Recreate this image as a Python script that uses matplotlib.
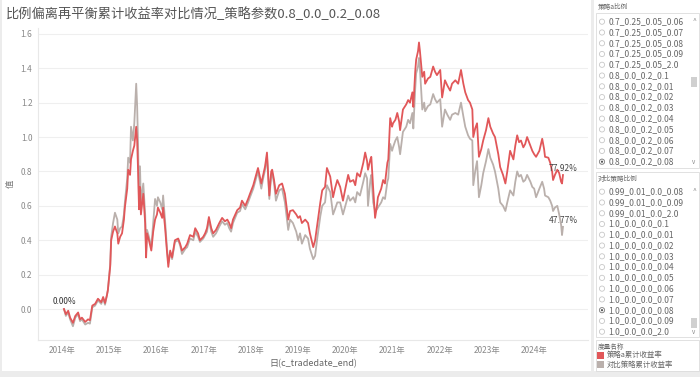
import matplotlib
matplotlib.use("Agg")
import matplotlib.pyplot as plt
from matplotlib.patches import Rectangle, Circle

plt.rcParams["font.family"] = ["Noto Sans CJK SC", "DejaVu Sans"]

# decimal year of each observation
years = [
    2014.04, 2014.08, 2014.13, 2014.17, 2014.23, 2014.28, 2014.34, 2014.38, 2014.42, 2014.49,
    2014.55, 2014.59, 2014.64, 2014.70, 2014.76, 2014.83, 2014.87, 2014.91, 2014.95, 2014.97,
    2015.02, 2015.04, 2015.08, 2015.12, 2015.17, 2015.19, 2015.23, 2015.27, 2015.31, 2015.33,
    2015.38, 2015.40, 2015.44, 2015.46, 2015.50, 2015.53, 2015.57, 2015.59, 2015.61, 2015.63,
    2015.65, 2015.67, 2015.72, 2015.76, 2015.78, 2015.80, 2015.84, 2015.89, 2015.93, 2015.97,
    2016.01, 2016.03, 2016.08, 2016.12, 2016.14, 2016.18, 2016.22, 2016.25, 2016.29, 2016.33,
    2016.39, 2016.46, 2016.50, 2016.54, 2016.61, 2016.65, 2016.71, 2016.78, 2016.82, 2016.88,
    2016.92, 2016.99, 2017.03, 2017.07, 2017.11, 2017.16, 2017.20, 2017.26, 2017.33, 2017.39,
    2017.45, 2017.50, 2017.54, 2017.58, 2017.62, 2017.71, 2017.77, 2017.81, 2017.88, 2017.94,
    2017.98, 2018.05, 2018.09, 2018.15, 2018.22, 2018.26, 2018.30, 2018.34, 2018.39, 2018.43,
    2018.45, 2018.49, 2018.53, 2018.60, 2018.66, 2018.72, 2018.79, 2018.83, 2018.89, 2018.96,
    2019.00, 2019.04, 2019.08, 2019.15, 2019.21, 2019.25, 2019.32, 2019.36, 2019.40, 2019.47,
    2019.51, 2019.57, 2019.61, 2019.68, 2019.74, 2019.78, 2019.83, 2019.89, 2019.95, 2020.00,
    2020.06, 2020.10, 2020.17, 2020.21, 2020.25, 2020.31, 2020.38, 2020.42, 2020.46, 2020.48,
    2020.53, 2020.55, 2020.59, 2020.63, 2020.67, 2020.69, 2020.76, 2020.80, 2020.84, 2020.89,
    2020.91, 2020.95, 2020.99, 2021.01, 2021.06, 2021.10, 2021.14, 2021.16, 2021.22, 2021.29,
    2021.33, 2021.37, 2021.42, 2021.44, 2021.48, 2021.50, 2021.54, 2021.56, 2021.58, 2021.63,
    2021.67, 2021.69, 2021.75, 2021.80, 2021.86, 2021.90, 2021.94, 2022.01, 2022.05, 2022.11,
    2022.16, 2022.22, 2022.26, 2022.33, 2022.39, 2022.45, 2022.50, 2022.54, 2022.60, 2022.64,
    2022.69, 2022.71, 2022.75, 2022.79, 2022.83, 2022.88, 2022.92, 2022.98, 2023.03, 2023.07,
    2023.13, 2023.17, 2023.24, 2023.28, 2023.34, 2023.39, 2023.43, 2023.49, 2023.56, 2023.60,
    2023.64, 2023.68, 2023.72, 2023.77, 2023.81, 2023.85, 2023.92, 2023.96, 2024.00, 2024.04,
    2024.11, 2024.17, 2024.21, 2024.23, 2024.30, 2024.34, 2024.38, 2024.40, 2024.44, 2024.49,
    2024.53, 2024.57, 2024.59, 2024.61,
]

# 策略a累计收益率
strategy_a = [
    0.00, -0.03, -0.01, -0.05, -0.08, -0.04, -0.02, -0.06, -0.05, -0.075,
    -0.06, -0.065, 0.02, 0.03, 0.06, 0.04, 0.07, 0.035, 0.08, 0.11,
    0.25, 0.40, 0.45, 0.48, 0.44, 0.38, 0.42, 0.44, 0.52, 0.59,
    0.70, 0.81, 0.78, 0.87, 0.92, 0.95, 1.06, 0.98, 0.80, 0.58,
    0.71, 0.55, 0.67, 0.50, 0.30, 0.44, 0.40, 0.34, 0.45, 0.52,
    0.55, 0.59, 0.56, 0.53, 0.59, 0.48, 0.34, 0.245, 0.34, 0.30,
    0.40, 0.41, 0.38, 0.34, 0.36, 0.38, 0.43, 0.42, 0.47, 0.44,
    0.40, 0.42, 0.44, 0.47, 0.535, 0.47, 0.44, 0.46, 0.50, 0.53,
    0.51, 0.52, 0.50, 0.47, 0.52, 0.575, 0.59, 0.63, 0.60, 0.64,
    0.67, 0.72, 0.76, 0.82, 0.73, 0.78, 0.83, 0.91, 0.66, 0.80,
    0.81, 0.75, 0.67, 0.72, 0.73, 0.67, 0.52, 0.57, 0.575, 0.55,
    0.53, 0.54, 0.50, 0.52, 0.50, 0.44, 0.36, 0.40, 0.48, 0.62,
    0.69, 0.71, 0.82, 0.77, 0.65, 0.70, 0.75, 0.71, 0.63, 0.70,
    0.78, 0.74, 0.75, 0.72, 0.79, 0.77, 0.85, 0.91, 0.86, 0.81,
    0.87, 0.885, 0.70, 0.53, 0.60, 0.65, 0.70, 0.75, 0.73, 0.85,
    0.87, 1.11, 1.06, 1.08, 1.10, 1.14, 1.09, 1.04, 1.16, 1.19,
    1.215, 1.20, 1.26, 1.175, 1.38, 1.45, 1.50, 1.55, 1.50, 1.35,
    1.38, 1.31, 1.34, 1.35, 1.41, 1.38, 1.36, 1.39, 1.23, 1.33,
    1.30, 1.27, 1.31, 1.33, 1.31, 1.39, 1.31, 1.26, 1.215, 1.20,
    1.16, 1.00, 1.05, 1.08, 0.885, 0.93, 0.98, 1.04, 1.11, 1.06,
    1.02, 1.00, 0.90, 0.825, 0.78, 0.73, 0.80, 0.92, 0.87, 0.95,
    1.01, 0.97, 0.98, 0.94, 0.96, 1.00, 0.95, 0.92, 0.90, 0.885,
    0.92, 0.99, 0.93, 0.885, 0.88, 0.85, 0.80, 0.75, 0.78, 0.81,
    0.79, 0.74, 0.73, 0.7792,
]

# 对比策略累计收益率
benchmark = [
    0.00, -0.04, -0.02, -0.06, -0.10, -0.05, -0.03, -0.07, -0.06, -0.09,
    -0.08, -0.085, 0.01, 0.02, 0.05, 0.03, 0.06, 0.025, 0.08, 0.11,
    0.26, 0.42, 0.50, 0.56, 0.52, 0.44, 0.47, 0.48, 0.55, 0.62,
    0.76, 0.88, 0.85, 1.06, 0.98, 1.08, 1.31, 1.18, 0.95, 0.62,
    0.83, 0.62, 0.73, 0.55, 0.33, 0.46, 0.42, 0.36, 0.50, 0.64,
    0.60, 0.65, 0.62, 0.58, 0.66, 0.52, 0.36, 0.27, 0.33, 0.29,
    0.39, 0.40, 0.37, 0.32, 0.35, 0.36, 0.41, 0.40, 0.45, 0.42,
    0.39, 0.41, 0.43, 0.45, 0.52, 0.45, 0.42, 0.44, 0.48, 0.51,
    0.49, 0.50, 0.47, 0.45, 0.50, 0.56, 0.57, 0.61, 0.58, 0.62,
    0.65, 0.70, 0.74, 0.80, 0.70, 0.76, 0.81, 0.89, 0.64, 0.78,
    0.79, 0.73, 0.63, 0.69, 0.70, 0.62, 0.46, 0.52, 0.50, 0.45,
    0.40, 0.44, 0.38, 0.43, 0.41, 0.35, 0.29, 0.31, 0.40, 0.54,
    0.60, 0.62, 0.72, 0.68, 0.55, 0.58, 0.62, 0.62, 0.55, 0.60,
    0.66, 0.63, 0.65, 0.62, 0.68, 0.66, 0.74, 0.79, 0.76, 0.60,
    0.75, 0.78, 0.62, 0.57, 0.58, 0.59, 0.62, 0.65, 0.64, 0.74,
    0.76, 0.96, 0.92, 0.94, 0.98, 1.00, 0.94, 0.90, 1.03, 1.06,
    1.10, 1.08, 1.14, 1.05, 1.28, 1.37, 1.41, 1.46, 1.40, 1.16,
    1.20, 1.15, 1.18, 1.19, 1.25, 1.22, 1.20, 1.22, 1.06, 1.16,
    1.13, 1.10, 1.13, 1.14, 1.13, 1.20, 1.12, 1.06, 1.01, 0.99,
    0.98, 0.72, 0.80, 0.86, 0.65, 0.72, 0.79, 0.86, 0.93, 0.88,
    0.84, 0.80, 0.70, 0.62, 0.60, 0.57, 0.62, 0.69, 0.66, 0.74,
    0.80, 0.77, 0.78, 0.74, 0.75, 0.78, 0.74, 0.71, 0.70, 0.65,
    0.70, 0.74, 0.70, 0.66, 0.65, 0.63, 0.60, 0.57, 0.59, 0.60,
    0.55, 0.49, 0.43, 0.4777,
]

year_ticks = list(range(2014, 2025))
y_ticks = [0.0, 0.2, 0.4, 0.6, 0.8, 1.0, 1.2, 1.4, 1.6]

panel1_items = ["0.7_0.25_0.05_0.06", "0.7_0.25_0.05_0.07", "0.7_0.25_0.05_0.08",
                "0.7_0.25_0.05_0.09", "0.7_0.25_0.05_2.0", "0.8_0.0_0.2_0.1",
                "0.8_0.0_0.2_0.01", "0.8_0.0_0.2_0.02", "0.8_0.0_0.2_0.03",
                "0.8_0.0_0.2_0.04", "0.8_0.0_0.2_0.05", "0.8_0.0_0.2_0.06",
                "0.8_0.0_0.2_0.07", "0.8_0.0_0.2_0.08"]
panel2_items = ["0.99_0.01_0.0_0.08", "0.99_0.01_0.0_0.09", "0.99_0.01_0.0_2.0",
                "1.0_0.0_0.0_0.1", "1.0_0.0_0.0_0.01", "1.0_0.0_0.0_0.02",
                "1.0_0.0_0.0_0.03", "1.0_0.0_0.0_0.04", "1.0_0.0_0.0_0.05",
                "1.0_0.0_0.0_0.06", "1.0_0.0_0.0_0.07", "1.0_0.0_0.0_0.08",
                "1.0_0.0_0.0_0.09", "1.0_0.0_0.0_2.0"]

RED = "#e15759"
GRAY = "#bab0ac"
W, H = 700, 377

fig = plt.figure(figsize=(7, 3.77), dpi=100)

# main chart (positions in pixels)
ax = fig.add_axes([38 / W, (H - 340) / H, (588 - 38) / W, (340 - 28) / H])
ax.plot(years, benchmark, color=GRAY, lw=1.3, zorder=2)
ax.plot(years, strategy_a, color=RED, lw=1.3, zorder=3)
ax.set_xlim(2013.49, 2025.14)
ax.set_ylim(-0.18, 1.634)
ax.set_yticks(y_ticks)
ax.set_yticklabels([f"{v:.1f}" for v in y_ticks])
ax.set_xticks(year_ticks)
ax.set_xticklabels([f"{y}年" for y in year_ticks])
ax.tick_params(length=0, labelsize=6, colors="#8a8a8a", pad=4)
ax.grid(axis="y", color="#efefef", lw=0.8)
for s in ["top", "right"]:
    ax.spines[s].set_visible(False)
for s in ["left", "bottom"]:
    ax.spines[s].set_color("#e8e8e8")
ax.set_xlabel("日(c_tradedate_end)", fontsize=6.5, color="#666666", labelpad=3)
ax.set_ylabel("值", fontsize=6, color="#777777", labelpad=4)

ax.annotate(f"{strategy_a[0] * 100:.2f}%", (years[0], strategy_a[0]), xytext=(0, 2),
            textcoords="offset points", ha="center", va="bottom", fontsize=6, color="#333333")
ax.annotate(f"{strategy_a[-1] * 100:.2f}%", (years[-1], strategy_a[-1]), xytext=(0, 1.5),
            textcoords="offset points", ha="center", va="bottom", fontsize=6, color="#444444")
ax.annotate(f"{benchmark[-1] * 100:.2f}%", (years[-1], benchmark[-1]), xytext=(0, 1.5),
            textcoords="offset points", ha="center", va="bottom", fontsize=6, color="#444444")

fig.text(6 / W, 1 - 14 / H, "比例偏离再平衡累计收益率对比情况_策略参数0.8_0.0_0.2_0.08",
         fontsize=9.5, color="#555555", va="center", ha="left")

# overlay for the filter / legend panel in pixel coordinates
ov = fig.add_axes([0, 0, 1, 1], zorder=-1)
ov.set_xlim(0, W)
ov.set_ylim(H, 0)
ov.axis("off")
ov.add_patch(Rectangle((0, 371), W, 6, color="#ececec", lw=0))
ov.add_patch(Rectangle((0, 0), 2, H, color="#ececec", lw=0))
ov.add_patch(Rectangle((591, 0), 3, H, color="#ececec", lw=0))

def radio_panel(title, items, y_title, box_top, box_bottom, y0, thumb, selected):
    ov.text(598, y_title, title, fontsize=4.8, color="#666666", va="center")
    ov.add_patch(Rectangle((596, box_top), 103, box_bottom - box_top, fill=False,
                           ec="#dcdcdc", lw=0.6))
    for i, lab in enumerate(items):
        y = y0 + i * 10.77
        ov.add_patch(Circle((602, y), 2.6, fill=False, ec="#c8c8c8", lw=0.6))
        if i == selected:
            ov.add_patch(Circle((602, y), 2.6, fill=False, ec="#888888", lw=0.6))
            ov.add_patch(Circle((602, y), 1.1, color="#555555", lw=0))
        ov.text(608.5, y, lab, fontsize=6.1, color="#666666", va="center")
    ov.text(694, y0 - 1, "^", fontsize=5, color="#888888", va="center", ha="center")
    ov.text(694, y0 + 13 * 10.77, "v", fontsize=4.5, color="#888888", va="center", ha="center")
    ov.add_patch(Rectangle((691, thumb[0]), 6, thumb[1] - thumb[0], color="#d0d0d0", lw=0))

radio_panel("策略a比例", panel1_items, 7, 13, 168, 21.7, (77, 87), 13)
radio_panel("对比策略比例", panel2_items, 179, 172, 337, 191.7, (318, 328), 11)

ov.add_patch(Rectangle((596, 340), 103, 31, fill=False, ec="#dcdcdc", lw=0.6))
ov.text(598, 347, "度量名称", fontsize=4.8, color="#666666", va="center")
ov.add_patch(Rectangle((597, 352), 7, 7, color=RED, lw=0))
ov.text(607, 355.5, "策略a累计收益率", fontsize=5.3, color="#666666", va="center")
ov.add_patch(Rectangle((597, 361), 7, 7, color=GRAY, lw=0))
ov.text(607, 364.5, "对比策略累计收益率", fontsize=5.3, color="#666666", va="center")

fig.savefig("out.png", dpi=100, facecolor="white")
